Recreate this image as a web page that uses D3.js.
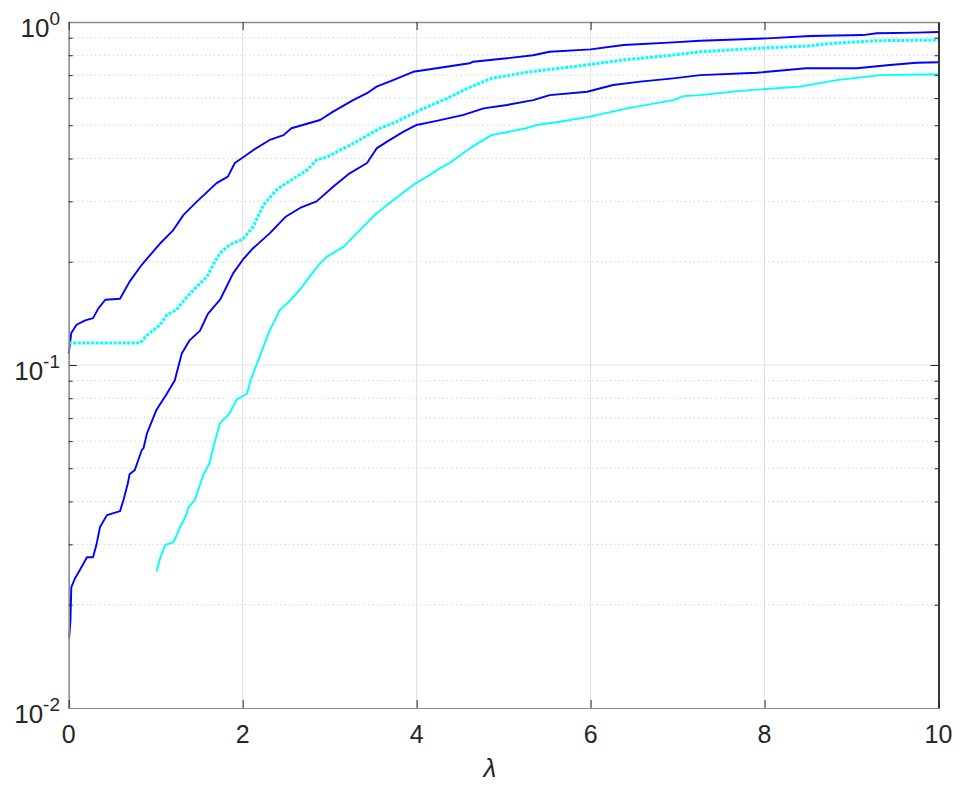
<!DOCTYPE html>
<html><head><meta charset="utf-8">
<script src="https://cdn.jsdelivr.net/npm/d3@7"></script>
<style>body{margin:0;background:#fff}svg{display:block}text{font-family:"Liberation Sans",Arial,Helvetica,sans-serif;fill:#262626}</style>
</head><body>
<svg id="c" width="969" height="792"></svg>
<script>
// Data
const xTicks = [0, 2, 4, 6, 8, 10];
const yMajor = [0.01, 0.1, 1];
const yExp = ["-2", "-1", "0"];
const yMinor = [0.02,0.03,0.04,0.05,0.06,0.07,0.08,0.09,0.2,0.3,0.4,0.5,0.6,0.7,0.8,0.9];

const blueTopL = [0,0.03,0.09,0.19,0.28,0.34,0.42,0.59,0.70,0.84,1.05,1.20,1.32,1.47,1.70,1.83,1.91,2.01,2.12,2.31,2.47,2.56,2.89,3.04,3.27,3.43,3.54,3.73,3.96,4.23,4.61,4.65,5.04,5.34,5.53,6.00,6.38,6.95,7.26,8.03,8.52,9.13,9.29,9.75,10];
const blueTopV = [0.108,0.124,0.131,0.135,0.137,0.146,0.155,0.156,0.175,0.196,0.226,0.247,0.274,0.299,0.339,0.354,0.388,0.404,0.423,0.453,0.468,0.49,0.518,0.548,0.592,0.62,0.648,0.677,0.716,0.733,0.758,0.766,0.784,0.80,0.819,0.832,0.857,0.872,0.882,0.896,0.91,0.916,0.927,0.931,0.935];

const cyanDotL = [0,0.82,0.90,1.05,1.13,1.24,1.36,1.47,1.59,1.68,1.74,1.85,1.97,2.01,2.12,2.24,2.39,2.47,2.62,2.74,2.85,2.97,3.12,3.31,3.58,3.77,4.04,4.35,4.61,4.86,5.30,5.80,6.38,6.95,7.26,7.91,8.48,8.79,9.29,10];
const cyanDotV = [0.116,0.116,0.122,0.131,0.14,0.145,0.158,0.169,0.181,0.20,0.212,0.224,0.231,0.234,0.253,0.293,0.324,0.335,0.354,0.37,0.396,0.404,0.423,0.448,0.49,0.512,0.554,0.599,0.645,0.685,0.716,0.741,0.775,0.801,0.819,0.838,0.851,0.867,0.882,0.886];

const blueLowL = [0.005,0.02,0.03,0.07,0.13,0.21,0.28,0.32,0.36,0.44,0.59,0.63,0.68,0.70,0.76,0.84,0.86,0.90,1.01,1.13,1.22,1.30,1.39,1.51,1.60,1.74,1.89,2.01,2.12,2.31,2.49,2.66,2.85,3.04,3.23,3.43,3.54,3.66,3.85,4.00,4.23,4.54,4.77,5.04,5.34,5.53,5.96,6.26,6.57,6.95,7.26,7.91,8.48,9.06,9.44,9.75,10];
const blueLowV = [0.016,0.018,0.0225,0.0238,0.0253,0.0275,0.0275,0.030,0.0337,0.0365,0.0375,0.0404,0.0452,0.048,0.0494,0.0565,0.0572,0.0632,0.0741,0.0826,0.0903,0.108,0.118,0.126,0.141,0.155,0.185,0.204,0.219,0.242,0.27,0.287,0.30,0.331,0.362,0.388,0.428,0.448,0.479,0.501,0.515,0.536,0.56,0.573,0.592,0.612,0.626,0.655,0.67,0.685,0.70,0.711,0.733,0.733,0.749,0.761,0.763];

const cyanSolL = [1.01,1.05,1.11,1.20,1.22,1.28,1.34,1.38,1.45,1.49,1.55,1.62,1.66,1.74,1.85,1.93,2.05,2.09,2.22,2.31,2.43,2.51,2.66,2.77,2.89,2.97,3.16,3.31,3.54,3.73,3.96,4.15,4.27,4.38,4.61,4.86,5.26,5.38,5.65,5.99,6.42,6.95,7.07,7.26,7.72,8.41,8.83,9.33,10];
const cyanSolV = [0.025,0.0273,0.0299,0.0304,0.031,0.0337,0.036,0.0386,0.0404,0.0433,0.048,0.0518,0.0572,0.0677,0.0723,0.0792,0.0826,0.09,0.11,0.126,0.145,0.151,0.166,0.181,0.198,0.207,0.221,0.242,0.277,0.302,0.335,0.358,0.375,0.388,0.428,0.468,0.49,0.501,0.512,0.53,0.56,0.592,0.608,0.612,0.63,0.648,0.677,0.70,0.704];

const series = [
  {L: blueTopL, V: blueTopV, color: "#0000ff", w: 1.9, dash: null},
  {L: cyanDotL, V: cyanDotV, color: "#00ffff", w: 3, dash: "3,1.5"},
  {L: blueLowL, V: blueLowV, color: "#0000ff", w: 1.9, dash: null},
  {L: cyanSolL, V: cyanSolV, color: "#00ffff", w: 1.9, dash: null}
];

const svg = d3.select("#c");
const L = 68.7, R = 938.5, T = 22, B = 708;
const x = d3.scaleLinear().domain([0, 10]).range([L, R]);
const y = d3.scaleLog().domain([0.01, 1]).range([B, T]);

// minor grid
svg.append("g").selectAll("line").data(yMinor).join("line")
  .attr("x1", L).attr("x2", R).attr("y1", d => y(d)).attr("y2", d => y(d))
  .attr("stroke", "#c8c8c8").attr("stroke-width", 1).attr("stroke-dasharray", "1.2,3.2");
// major grid
svg.append("g").selectAll("line").data(xTicks.slice(1, -1)).join("line")
  .attr("x1", d => x(d)).attr("x2", d => x(d)).attr("y1", T).attr("y2", B)
  .attr("stroke", "#e3e3e3").attr("stroke-width", 1.2);
svg.append("line").attr("x1", L).attr("x2", R).attr("y1", y(0.1)).attr("y2", y(0.1))
  .attr("stroke", "#e3e3e3").attr("stroke-width", 1.2);

// curves
const line = d3.line().x(d => x(d[0])).y(d => y(d[1]));
series.forEach(s => {
  const pts = s.L.map((l, i) => [l, s.V[i]]);
  const p = svg.append("path").attr("d", line(pts)).attr("fill", "none")
    .attr("stroke", s.color).attr("stroke-width", s.w).attr("stroke-linejoin", "round");
  if (s.dash) p.attr("stroke-dasharray", s.dash);
});

// axes with ticks
const gL = svg.append("g").attr("transform", `translate(${L},0)`)
  .call(d3.axisLeft(y).tickValues(yMajor).tickSizeInner(-8).tickSizeOuter(0).tickFormat(""));
const gR = svg.append("g").attr("transform", `translate(${R},0)`)
  .call(d3.axisRight(y).tickValues(yMajor).tickSizeInner(-8).tickSizeOuter(0).tickFormat(""));
const gLm = svg.append("g").attr("transform", `translate(${L},0)`)
  .call(d3.axisLeft(y).tickValues(yMinor).tickSizeInner(-4).tickSizeOuter(0).tickFormat(""));
const gRm = svg.append("g").attr("transform", `translate(${R},0)`)
  .call(d3.axisRight(y).tickValues(yMinor).tickSizeInner(-4).tickSizeOuter(0).tickFormat(""));
const gB = svg.append("g").attr("transform", `translate(0,${B})`)
  .call(d3.axisBottom(x).tickValues(xTicks).tickSizeInner(-8).tickSizeOuter(0).tickFormat(""));
const gT = svg.append("g").attr("transform", `translate(0,${T})`)
  .call(d3.axisTop(x).tickValues(xTicks).tickSizeInner(-8).tickSizeOuter(0).tickFormat(""));
[gL, gLm, gB, gT].forEach(g => { g.selectAll("line").attr("stroke", "#262626"); g.select(".domain").attr("stroke", "#8c8c8c").attr("stroke-width", 1.2); });
[gR, gRm].forEach(g => { g.selectAll("line").attr("stroke", "#262626"); g.select(".domain").attr("stroke", "#262626").attr("stroke-width", 1.4); });
gT.select(".domain").attr("stroke-width", 1.6);

// x tick labels
svg.append("g").selectAll("text").data(xTicks).join("text")
  .attr("x", d => x(d)).attr("y", 743).attr("text-anchor", "middle")
  .attr("font-size", 25).text(d => d);

// y tick labels
const yl = svg.append("g").selectAll("text").data(yMajor).join("text")
  .attr("x", 60).attr("y", d => y(d) + 15).attr("text-anchor", "end").attr("font-size", 26);
yl.append("tspan").text("10");
yl.append("tspan").attr("dy", -12).attr("font-size", 19).text((d, i) => yExp[i]);

// x label
svg.append("text").attr("x", 490).attr("y", 777).attr("text-anchor", "middle")
  .attr("font-size", 26).attr("font-style", "italic").text("λ");
</script>
</body></html>
